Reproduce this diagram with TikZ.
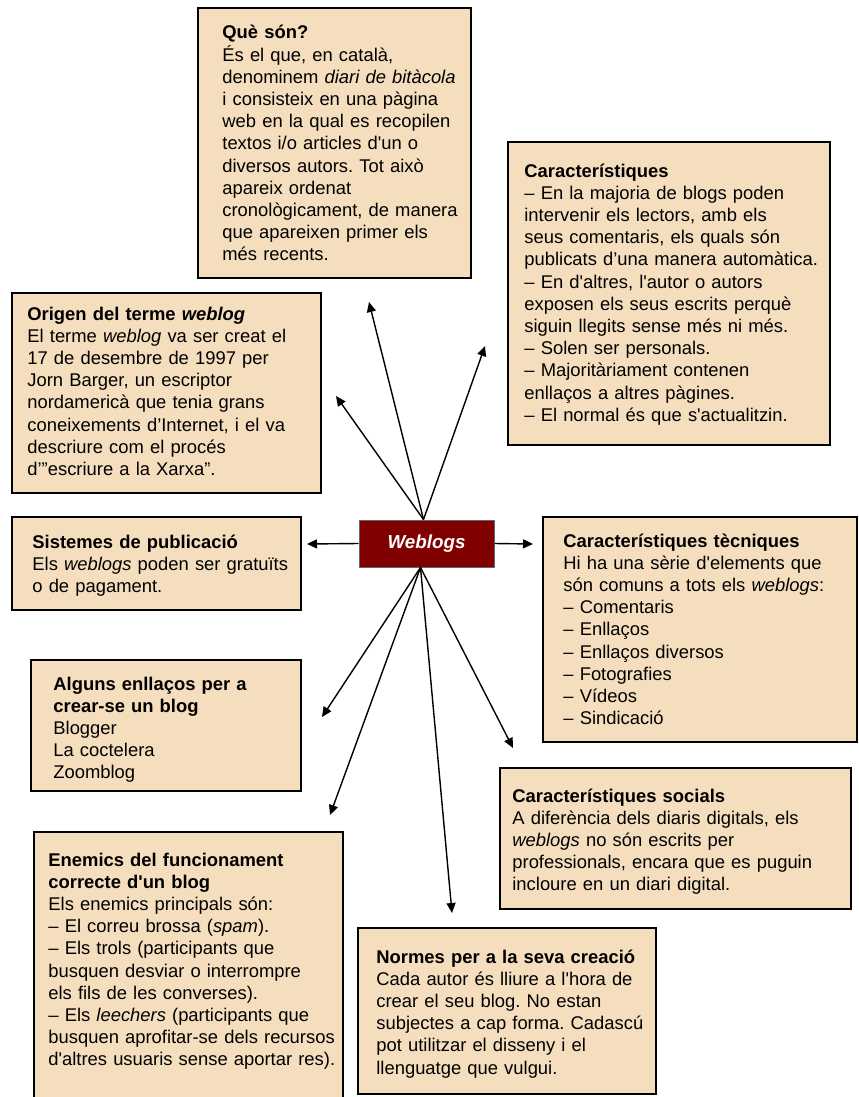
\documentclass[tikz,border=0pt]{standalone}
\usepackage{fontspec}
\setmainfont{Liberation Sans}[Ligatures=TeXOff]
\usepackage{tikz}
\usetikzlibrary{arrows.meta,fit}
\usepackage{xcolor}
\definecolor{boxfill}{RGB}{245,222,190}
\definecolor{webred}{RGB}{128,0,0}
\frenchspacing

\begin{document}
\begin{tikzpicture}[
    x=0.5pt, y=-0.5pt,
    box/.style={rectangle, draw=black, line width=1.4pt, fill=boxfill, inner sep=0pt},
    hub/.style={rectangle, draw=black!60, line width=0.5pt, fill=webred, inner sep=0pt,
      minimum width=67.5pt, minimum height=23.5pt,
      text=white, font=\fontsize{9.4}{11.1}\selectfont\bfseries\itshape},
    txt/.style={anchor=base west, inner sep=0pt, align=left, text width=170pt,
      font=\fontsize{9.2}{11.1}\selectfont},
    arr/.style={-{Triangle[length=5pt,width=4.5pt]}, line width=0.7pt}
  ]
  \useasboundingbox (0,0) rectangle (858,1097);
  \clip (0,0) rectangle (858,1097);

  %% ---- Boxes ----
  \node[box, fit={(198,8) (471,278)}] (que) {};
  \node[box, fit={(508,142) (830,445)}] (carac) {};
  \node[box, fit={(12,293) (321,493)}] (origen) {};
  \node[box, fit={(12,517) (301,610)}] (sist) {};
  \node[box, fit={(543,517) (857,742)}] (tecn) {};
  \node[box, fit={(31,660) (301,791)}] (enll) {};
  \node[box, fit={(500,768) (851,909)}] (soc) {};
  \node[box, fit={(34,832) (343,1112)}] (enem) {};
  \node[box, fit={(358,928) (656,1094)}] (normes) {};

  %% ---- Centre ----
  \node[hub] (web) at (426.5,543.5) {Weblogs};

  %% ---- Texts ----
  \node[txt] (quetxt) at (222,39) {\textbf{Què són?}\\
    És el que, en català,\\
    denominem \textit{diari de bitàcola}\\
    i consisteix en una pàgina\\
    web en la qual es recopilen\\
    textos i/o articles d'un o\\
    diversos autors. Tot això\\
    apareix ordenat\\
    cronològicament, de manera\\
    que apareixen primer els\\
    més recents.};

  \node[txt] (caractxt) at (524,177) {\textbf{Característiques}\\
    – En la majoria de blogs poden\\
    intervenir els lectors, amb els\\
    seus comentaris, els quals són\\
    publicats d’una manera automàtica.\\
    – En d'altres, l'autor o autors\\
    exposen els seus escrits perquè\\
    siguin llegits sense més ni més.\\
    – Solen ser personals.\\
    – Majoritàriament contenen\\
    enllaços a altres pàgines.\\
    – El normal és que s'actualitzin.};

  \node[txt] (origentxt) at (27,320) {\textbf{Origen del terme \textit{weblog}}\\
    El terme \textit{weblog} va ser creat el\\
    17 de desembre de 1997 per\\
    Jorn Barger, un escriptor\\
    nordamericà que tenia grans\\
    coneixements d’Internet, i el va\\
    descriure com el procés\\
    d’”escriure a la Xarxa”.};

  \node[txt] (sisttxt) at (32,548) {\textbf{Sistemes de publicació}\\
    Els \textit{weblogs} poden ser gratuïts\\
    o de pagament.};

  \node[txt] (tecntxt) at (563,547) {\textbf{Característiques tècniques}\\
    Hi ha una sèrie d'elements que\\
    són comuns a tots els \textit{weblogs}:\\
    – Comentaris\\
    – Enllaços\\
    – Enllaços diversos\\
    – Fotografies\\
    – Vídeos\\
    – Sindicació};

  \node[txt] (enlltxt) at (53,690) {\textbf{Alguns enllaços per a}\\
    \textbf{crear-se un blog}\\
    Blogger\\
    La coctelera\\
    Zoomblog};

  \node[txt] (soctxt) at (512,802) {\textbf{Característiques socials}\\
    A diferència dels diaris digitals, els\\
    \textit{weblogs} no són escrits per\\
    professionals, encara que es puguin\\
    incloure en un diari digital.};

  \node[txt] (enemtxt) at (48,866) {\textbf{Enemics del funcionament}\\
    \textbf{correcte d'un blog}\\
    Els enemics principals són:\\
    – El correu brossa (\textit{spam}).\\
    – Els trols (participants que\\
    busquen desviar o interrompre\\
    els fils de les converses).\\
    – Els \textit{leechers} (participants que\\
    busquen aprofitar-se dels recursos\\
    d'altres usuaris sense aportar res).};

  \node[txt] (normestxt) at (376,963) {\textbf{Normes per a la seva creació}\\
    Cada autor és lliure a l'hora de\\
    crear el seu blog. No estan\\
    subjectes a cap forma. Cadascú\\
    pot utilitzar el disseny i el\\
    llenguatge que vulgui.};

  %% ---- Arrow tips (free ends) ----
  \coordinate (tque) at (369,302);
  \coordinate (tcarac) at (485,346);
  \coordinate (torigen) at (336,396);
  \coordinate (tsist) at (307,544);
  \coordinate (ttecn) at (533,544);
  \coordinate (tenll) at (322,717);
  \coordinate (tenem) at (330,815);
  \coordinate (tnormes) at (452,913);
  \coordinate (tsoc) at (513,748);

  %% ---- Connections ----
  \foreach \tip in {tque, tcarac, torigen}{
    \draw[arr] ([xshift=-1.5pt]web.north) -- (\tip);
  }
  \foreach \tip in {tenll, tenem, tnormes, tsoc}{
    \draw[arr] ([xshift=-3pt]web.south) -- (\tip);
  }
  \draw[arr] (web.west) -- (tsist);
  \draw[arr] (web.east) -- (ttecn);

\end{tikzpicture}
\end{document}
